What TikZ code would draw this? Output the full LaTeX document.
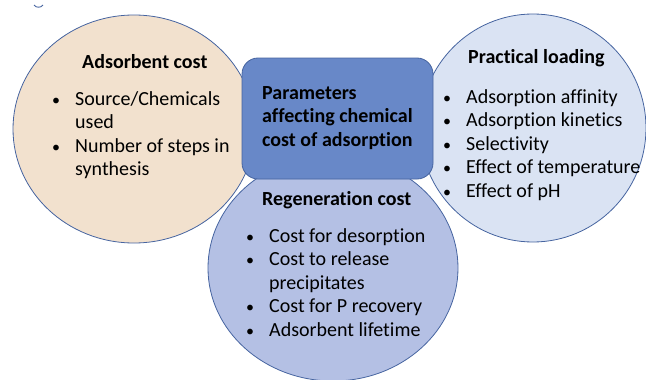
\documentclass[tikz,border=0pt]{standalone}
\usepackage{fontspec}
\setmainfont[Ligatures=NoCommon]{Carlito}
\usetikzlibrary{shapes.geometric}
\definecolor{peach}{RGB}{242,225,206}
\definecolor{paleblue}{RGB}{218,227,243}
\definecolor{lavender}{RGB}{180,192,228}
\definecolor{boxblue}{RGB}{104,136,200}
\definecolor{edgeblue}{RGB}{70,100,160}
\begin{document}
\begin{tikzpicture}[x=1pt,y=-1pt,
  bubble/.style={ellipse, draw=edgeblue, line width=0.8pt, inner sep=0pt},
  centerbox/.style={rectangle, rounded corners=16pt, draw=edgeblue, line width=0.8pt, fill=boxblue, inner sep=0pt},
  head/.style={anchor=base west, inner sep=0pt, font=\fontsize{20}{23.5}\selectfont\bfseries},
  item/.style={anchor=base west, inner sep=0pt, font=\fontsize{20}{23.5}\selectfont, align=left}
]
\newcommand{\bul}{\makebox[23pt][l]{\fontsize{16}{16}\selectfont •}}
\newcommand{\ind}{\hspace*{23pt}}
\useasboundingbox (0,0) rectangle (646,380);
% small cut-off mark at top left
\draw[edgeblue, line width=0.9pt] (34,5) .. controls (36,8) and (41,8) .. (43,5);
% bubbles
\node[bubble, fill=peach, minimum width=242pt, minimum height=228pt] (adsorbent) at (134,129) {};
\node[bubble, fill=paleblue, minimum width=226pt, minimum height=228pt] (loading) at (533,128) {};
\node[bubble, fill=lavender, minimum width=250pt, minimum height=226pt] (regen) at (333,268) {};
\node[centerbox, minimum width=191pt, minimum height=121pt] (params) at (337.5,118.5) {};
% texts (base anchor = baseline of last line)
\node[head] (adsH) at (82,68) {Adsorbent cost};
\node[item] (adsL) at (52,175.5) {\bul Source/Chemicals\\\ind used\\\bul Number of steps in\\\ind synthesis};
\node[head] (loadH) at (468,63) {Practical loading};
\node[item] (loadL) at (443,197) {\bul Adsorption affinity\\\bul Adsorption kinetics\\\bul Selectivity\\\bul Effect of temperature\\\bul Effect of pH};
\node[head, align=left] (parT) at (262,146) {Parameters\\affecting chemical\\cost of adsorption};
\node[head] (regH) at (262,205) {Regeneration cost};
\node[item] (regL) at (246,336) {\bul Cost for desorption\\\bul Cost to release\\\ind precipitates\\\bul Cost for P recovery\\\bul Adsorbent lifetime};
\end{tikzpicture}
\end{document}
